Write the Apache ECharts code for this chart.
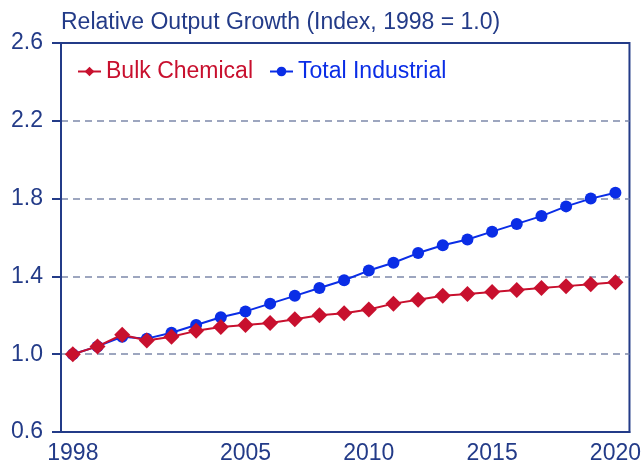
<!DOCTYPE html>
<html>
<head>
<meta charset="utf-8">
<script src="https://cdn.jsdelivr.net/npm/echarts@6/dist/echarts.min.js"></script>
<style>
  html, body { margin: 0; padding: 0; background: #fff; }
  #chart { width: 644px; height: 466px; }
</style>
</head>
<body>
<div id="chart"></div>
<script>
const years = [1998, 1999, 2000, 2001, 2002, 2003, 2004, 2005, 2006, 2007, 2008, 2009,
  2010, 2011, 2012, 2013, 2014, 2015, 2016, 2017, 2018, 2019, 2020]
const bulkChemical = [1.00, 1.04, 1.10, 1.07, 1.09, 1.12, 1.14, 1.15, 1.16, 1.18, 1.20, 1.21,
  1.23, 1.26, 1.28, 1.30, 1.31, 1.32, 1.33, 1.34, 1.35, 1.36, 1.37]
const totalIndustrial = [1.00, 1.04, 1.09, 1.08, 1.11, 1.15, 1.19, 1.22, 1.26, 1.30, 1.34, 1.38,
  1.43, 1.47, 1.52, 1.56, 1.59, 1.63, 1.67, 1.71, 1.76, 1.80, 1.83]
const yearLabels = [1998, 2005, 2010, 2015, 2020]

const navy = '#233b88'
const red = '#c8102e'
const blue = '#0a2de6'
const grey = '#7d89aa'
const font = 'Liberation Sans, Arial, sans-serif'

const chart = echarts.init(document.getElementById('chart'))

const option = {
  animation: false,
  title: {
    text: 'Relative Output Growth (Index, 1998 = 1.0)',
    left: 61,
    top: 11,
    padding: 0,
    textStyle: { color: navy, fontSize: 23, fontWeight: 'normal', fontFamily: font }
  },
  legend: {
    left: 77,
    top: 60,
    padding: 0,
    itemWidth: 23,
    itemHeight: 12,
    itemGap: 16,
    textStyle: { fontSize: 23, fontFamily: font },
    data: [
      { name: 'Bulk Chemical', textStyle: { color: red } },
      { name: 'Total Industrial', textStyle: { color: blue } }
    ]
  },
  grid: {
    left: 61, right: 13, top: 43, bottom: 34,
    show: true,
    borderColor: navy,
    borderWidth: 2
  },
  xAxis: {
    type: 'value',
    min: 1997.52,
    max: 2020.57,
    axisLine: { show: true, lineStyle: { color: navy, width: 2 } },
    axisTick: { show: false },
    splitLine: { show: false },
    axisLabel: {
      customValues: yearLabels,
      color: navy,
      fontSize: 23,
      fontFamily: font,
      margin: 10,
      formatter: v => String(v)
    }
  },
  yAxis: {
    type: 'value',
    min: 0.6,
    max: 2.6,
    interval: 0.4,
    axisLine: { show: true, lineStyle: { color: navy, width: 2 } },
    axisTick: { show: true, length: 9, lineStyle: { color: navy, width: 2 } },
    splitLine: {
      show: true,
      lineStyle: { color: ['transparent', grey, grey, grey, grey, 'transparent'], type: [7, 5], width: 1.5 }
    },
    axisLabel: {
      color: navy,
      fontSize: 23,
      fontFamily: font,
      margin: 18,
      formatter: v => v.toFixed(1)
    }
  },
  series: [
    {
      name: 'Total Industrial',
      type: 'line',
      data: years.map((y, i) => [y, totalIndustrial[i]]),
      symbol: 'circle',
      symbolSize: 12,
      itemStyle: { color: blue },
      lineStyle: { color: blue, width: 2 },
      z: 2
    },
    {
      name: 'Bulk Chemical',
      type: 'line',
      data: years.map((y, i) => [y, bulkChemical[i]]),
      symbol: 'diamond',
      symbolSize: [16, 16],
      itemStyle: { color: red },
      lineStyle: { color: red, width: 2 },
      z: 3
    }
  ]
}

chart.setOption(option)
</script>
</body>
</html>
